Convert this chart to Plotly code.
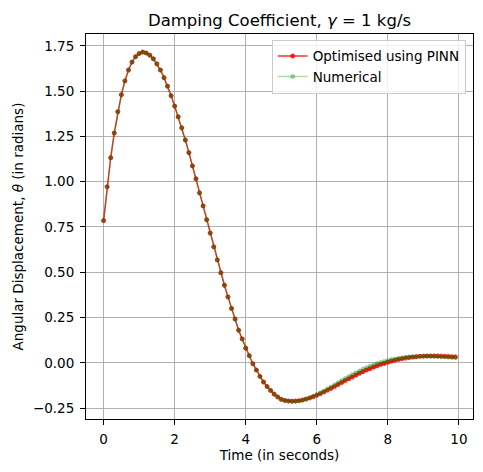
import plotly.graph_objects as go

# time samples (s)
time = [
    0.0, 0.1, 0.2, 0.3, 0.4, 0.5, 0.6, 0.7, 0.8, 0.9,
    1.0, 1.1, 1.2, 1.3, 1.4, 1.5, 1.6, 1.7, 1.8, 1.9,
    2.0, 2.1, 2.2, 2.3, 2.4, 2.5, 2.6, 2.7, 2.8, 2.9,
    3.0, 3.1, 3.2, 3.3, 3.4, 3.5, 3.6, 3.7, 3.8, 3.9,
    4.0, 4.1, 4.2, 4.3, 4.4, 4.5, 4.6, 4.7, 4.8, 4.9,
    5.0, 5.1, 5.2, 5.3, 5.4, 5.5, 5.6, 5.7, 5.8, 5.9,
    6.0, 6.1, 6.2, 6.3, 6.4, 6.5, 6.6, 6.7, 6.8, 6.9,
    7.0, 7.1, 7.2, 7.3, 7.4, 7.5, 7.6, 7.7, 7.8, 7.9,
    8.0, 8.1, 8.2, 8.3, 8.4, 8.5, 8.6, 8.7, 8.8, 8.9,
    9.0, 9.1, 9.2, 9.3, 9.4, 9.5, 9.6, 9.7, 9.8, 9.9,
]

# angular displacement predicted by the PINN (rad)
theta_pinn = [
    0.785, 0.972, 1.132, 1.268, 1.386, 1.480, 1.556, 1.616, 1.660, 1.690,
    1.707, 1.715, 1.710, 1.698, 1.678, 1.650, 1.616, 1.574, 1.527, 1.474,
    1.417, 1.358, 1.297, 1.230, 1.160, 1.087, 1.016, 0.938, 0.866, 0.790,
    0.716, 0.640, 0.568, 0.497, 0.428, 0.364, 0.300, 0.242, 0.180, 0.132,
    0.081, 0.039, -0.005, -0.040, -0.075, -0.106, -0.131, -0.153, -0.173, -0.189,
    -0.202, -0.208, -0.211, -0.212, -0.211, -0.209, -0.205, -0.200, -0.194, -0.187,
    -0.179, -0.170, -0.161, -0.151, -0.141, -0.131, -0.120, -0.109, -0.098, -0.088,
    -0.078, -0.068, -0.058, -0.049, -0.040, -0.032, -0.024, -0.016, -0.009, -0.003,
    0.003, 0.009, 0.014, 0.019, 0.023, 0.026, 0.029, 0.032, 0.034, 0.036,
    0.037, 0.038, 0.038, 0.038, 0.038, 0.037, 0.036, 0.035, 0.034, 0.033,
]

# angular displacement from the numerical solver (rad)
theta_num = [
    0.785, 0.972, 1.132, 1.268, 1.386, 1.480, 1.556, 1.616, 1.660, 1.690,
    1.707, 1.715, 1.710, 1.698, 1.678, 1.650, 1.616, 1.574, 1.527, 1.474,
    1.417, 1.358, 1.297, 1.230, 1.160, 1.087, 1.016, 0.938, 0.866, 0.790,
    0.716, 0.640, 0.568, 0.497, 0.428, 0.364, 0.300, 0.242, 0.180, 0.132,
    0.081, 0.039, -0.005, -0.040, -0.075, -0.106, -0.131, -0.152, -0.171, -0.187,
    -0.200, -0.206, -0.210, -0.212, -0.212, -0.210, -0.206, -0.200, -0.193, -0.184,
    -0.175, -0.165, -0.155, -0.144, -0.133, -0.121, -0.110, -0.098, -0.087, -0.076,
    -0.065, -0.055, -0.045, -0.036, -0.027, -0.019, -0.011, -0.004, 0.002, 0.008,
    0.013, 0.018, 0.022, 0.025, 0.028, 0.031, 0.033, 0.034, 0.035, 0.036,
    0.036, 0.036, 0.036, 0.035, 0.034, 0.033, 0.032, 0.031, 0.029, 0.028,
]

x_ticks = [0, 2, 4, 6, 8, 10]
y_ticks = [-0.25, 0.0, 0.25, 0.5, 0.75, 1.0, 1.25, 1.5, 1.75]
y_tick_text = ['−0.25', '0.00', '0.25', '0.50', '0.75', '1.00', '1.25', '1.50', '1.75']

FONT = 'DejaVu Sans'
RED = 'rgba(255, 0, 0, 0.8)'
GREEN = 'rgba(0, 128, 0, 0.3)'

fig = go.Figure()

fig.add_trace(
    go.Scatter(
        x=time, y=theta_pinn,
        mode='lines+markers',
        name='Optimised using PINN',
        line={'color': RED, 'width': 1.5},
        marker={'color': RED, 'size': 4, 'line': {'color': RED, 'width': 1}},
    )
)
fig.add_trace(
    go.Scatter(
        x=time, y=theta_num,
        mode='lines+markers',
        name='Numerical',
        line={'color': GREEN, 'width': 1.5},
        marker={'color': GREEN, 'size': 4, 'line': {'color': GREEN, 'width': 1}},
    )
)

axis_style = dict(
    showline=True,
    mirror=True,
    linecolor='black',
    linewidth=1,
    ticks='outside',
    ticklen=5,
    tickwidth=1,
    tickcolor='black',
    ticklabelstandoff=3,
    showgrid=True,
    gridcolor='#b0b0b0',
    gridwidth=1,
    zeroline=False,
    tickfont={'family': FONT, 'size': 13.5, 'color': 'black'},
)

fig.update_layout(
    width=483,
    height=472,
    paper_bgcolor='white',
    plot_bgcolor='white',
    hovermode=False,
    font={'family': FONT, 'size': 13.5, 'color': 'black'},
    margin={'l': 86, 'r': 10, 't': 34, 'b': 53},
    title={
        'text': 'Damping Coefficient, <i>γ</i> = 1 kg/s',
        'font': {'family': FONT, 'size': 16.5, 'color': 'black'},
        'x': 0.5, 'xref': 'paper',
        'y': 0.957, 'yref': 'container', 'yanchor': 'middle',
    },
    xaxis=dict(
        axis_style,
        range=[-0.495, 10.395],
        tickvals=x_ticks,
        title={'text': 'Time (in seconds)', 'standoff': 4,
               'font': {'family': FONT, 'size': 13.5}},
    ),
    yaxis=dict(
        axis_style,
        range=[-0.31, 1.815],
        tickvals=y_ticks,
        ticktext=y_tick_text,
        title={'text': 'Angular Displacement, <i>θ</i> (in radians)',
               'standoff': 6, 'font': {'family': FONT, 'size': 13.5}},
    ),
    legend={
        'x': 0.981, 'y': 0.985,
        'xanchor': 'right', 'yanchor': 'top',
        'bgcolor': 'rgba(255, 255, 255, 0.8)',
        'bordercolor': '#cccccc',
        'borderwidth': 1,
        'font': {'family': FONT, 'size': 13.5, 'color': 'black'},
    },
    showlegend=True,
)

# drop the browser's default body margin so the figure sits at the page corner
fig.write_html(
    'out.html',
    config={'displayModeBar': False},
    post_script="document.body.style.margin = '0';",
)
